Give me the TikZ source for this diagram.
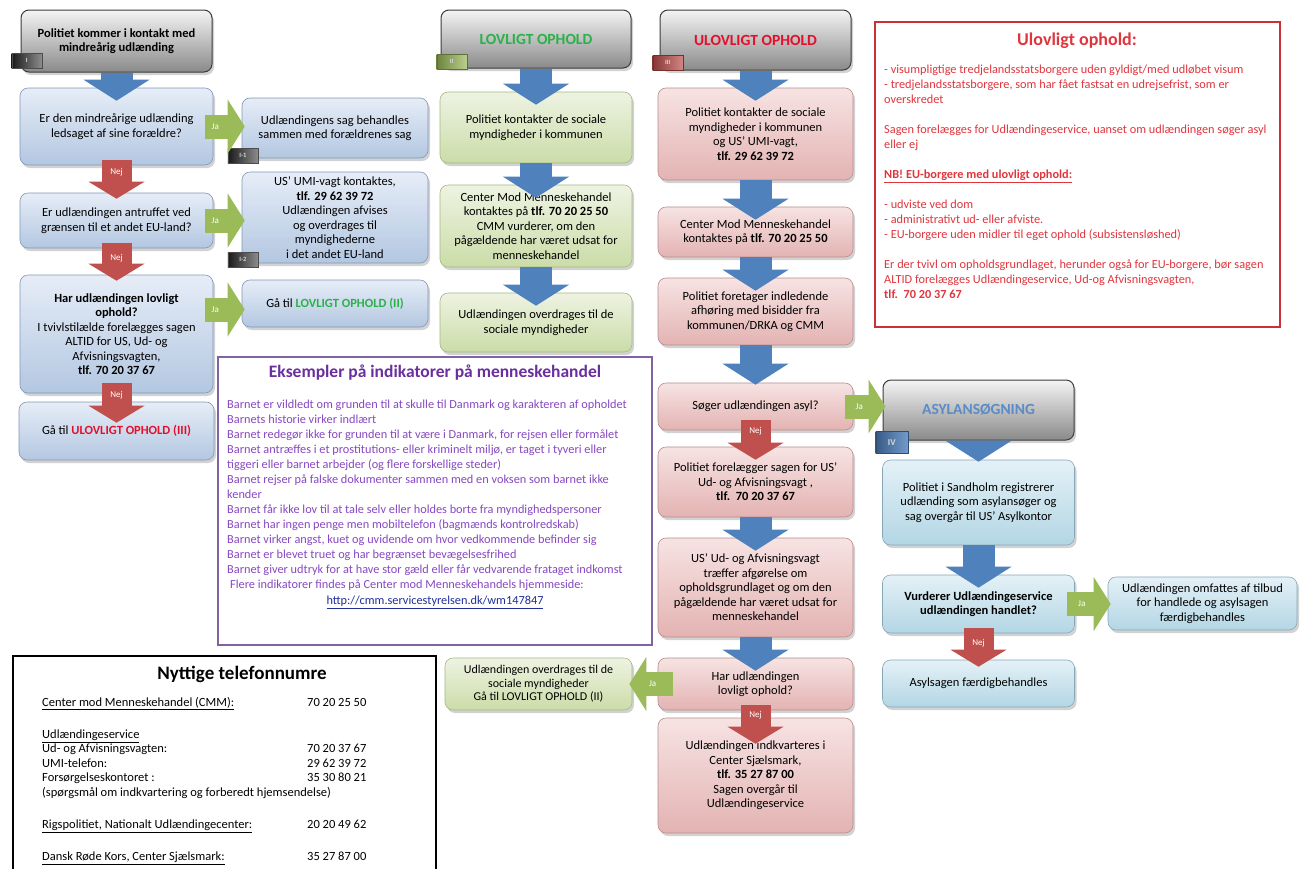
\documentclass[tikz,border=0pt]{standalone}
\usepackage{fontspec}
\setmainfont{Carlito}
\usepackage{xcolor}
\usetikzlibrary{positioning}
\usetikzlibrary{calc}
\usetikzlibrary{shadows}
\usetikzlibrary{arrows.meta}

\definecolor{arrowblue}{HTML}{4F81BD}
\definecolor{arrowred}{HTML}{C0504D}
\definecolor{arrowgreen}{HTML}{9BBB59}
\definecolor{txtgreen}{HTML}{2CB04A}
\definecolor{txtred}{HTML}{E3102C}
\definecolor{txtasyl}{HTML}{5B8CC6}
\definecolor{infored}{HTML}{E0353D}
\definecolor{purpletxt}{HTML}{8748C2}
\definecolor{purpletitle}{HTML}{6A2E9E}
\definecolor{purpleedge}{HTML}{8064A2}
\definecolor{linkblue}{HTML}{1F2F9A}
\definecolor{bluetop}{HTML}{E6EDF7}
\definecolor{bluebot}{HTML}{B3C7E1}
\definecolor{blueedge}{HTML}{8197B8}
\definecolor{greentop}{HTML}{EEF3E2}
\definecolor{greenbot}{HTML}{CBDCA8}
\definecolor{greenedge}{HTML}{A3B982}
\definecolor{redtop}{HTML}{F7E3E3}
\definecolor{redbot}{HTML}{E3B3B2}
\definecolor{rededge}{HTML}{B88C8B}
\definecolor{asyltop}{HTML}{E4F1F7}
\definecolor{asylbot}{HTML}{B3D6E4}
\definecolor{asyledge}{HTML}{86A7B8}
\definecolor{headtop}{HTML}{F4F4F4}
\definecolor{headbot}{HTML}{8A8A8A}
\definecolor{headedge}{HTML}{3C3C3C}

\newcommand{\boxfont}{\fontsize{12.5}{14.5}\selectfont}
\newcommand{\headfont}{\fontsize{15.5}{18}\selectfont\bfseries}
\newcommand{\infofont}{\fontsize{12.3}{15}\selectfont}
\newcommand{\indfont}{\fontsize{12.3}{15}\selectfont}
\newcommand{\phonefont}{\fontsize{12.5}{14.5}\selectfont}

\tikzset{
  flowbox/.style={rounded corners=8pt, align=center, inner sep=2pt, font=\boxfont, line width=0.6pt,
    drop shadow={opacity=0.35, shadow xshift=2pt, shadow yshift=-3pt}},
  bluebox/.style={flowbox, draw=blueedge, top color=bluetop, bottom color=bluebot},
  greenbox/.style={flowbox, draw=greenedge, top color=greentop, bottom color=greenbot},
  redbox/.style={flowbox, draw=rededge, top color=redtop, bottom color=redbot},
  asylbox/.style={flowbox, draw=asyledge, top color=asyltop, bottom color=asylbot},
  headbox/.style={flowbox, draw=headedge, line width=1pt, top color=headtop, bottom color=headbot},
  tabdark/.style={draw=black!70, minimum width=30pt, minimum height=15pt, inner sep=0pt, anchor=south west,
    font=\fontsize{6.5}{7}\selectfont\bfseries, text=white!85!black, left color=black!90, right color=black!45},
  tabgreen/.style={tabdark, draw=arrowgreen!60!black, left color=arrowgreen!70!black, right color=arrowgreen!70},
  tabred/.style={tabdark, draw=arrowred!60!black, left color=arrowred!70!black, right color=arrowred!70},
  tabblue/.style={tabdark, draw=arrowblue!60!black, left color=arrowblue!70!black, right color=arrowblue!80},
  downblue/.style={draw=arrowblue, line width=32pt, shorten >=-13pt,
    -{Triangle[width=66pt, length=21pt, line width=0pt]}},
  nej/.style={draw=arrowred, line width=30pt, shorten <=-5pt, shorten >=-6pt,
    -{Triangle[width=56pt, length=17pt, line width=0pt]}},
  ja/.style={draw=arrowgreen, line width=24pt, shorten <=-8pt, shorten >=-3pt,
    -{Triangle[width=54pt, length=17pt, line width=0pt]}},
  nejtext/.style={inner sep=1pt, text=white, font=\fontsize{9}{9}\selectfont},
  jatext/.style={inner sep=1pt, text=white, font=\fontsize{9}{9}\selectfont},
  infoframe/.style={draw, fill=white, inner sep=0pt}
}

\begin{document}
\begin{tikzpicture}[x=1pt, y=-1pt]
\useasboundingbox (0,0) rectangle (1308,868);
\fill[white] (0,0) rectangle (1308,868);

% I
\node[headbox, minimum width=191pt, minimum height=62pt] (hdrI) at (116.5,41) {\textbf{Politiet kommer i kontakt med}\\\textbf{mindreårig udlænding}};
\node[bluebox, minimum width=193pt, minimum height=77pt] (qParents) at (116.5,126.5) {Er den mindreårige udlænding\\ledsaget af sine forældre?};
\node[bluebox, minimum width=193pt, minimum height=55pt] (qBorder) at (116.5,220.5) {Er udlændingen antruffet ved\\grænsen til et andet EU-land?};
\node[bluebox, minimum width=193pt, minimum height=118pt] (qLegal) at (116.5,334) {\textbf{Har udlændingen lovligt}\\\textbf{ophold?}\\I tvivlstilælde forelægges sagen\\ALTID for US, Ud- og\\Afvisningsvagten,\\\textbf{tlf. 70 20 37 67}};
\node[bluebox, minimum width=195pt, minimum height=58pt] (goIII) at (116.5,431) {Gå til \textcolor{txtred}{\textbf{ULOVLIGT OPHOLD (III)}}};
\node[bluebox, minimum width=186pt, minimum height=60pt] (sameCase) at (335,128) {Udlændingens sag behandles\\sammen med forældrenes sag};
\node[bluebox, minimum width=186pt, minimum height=91pt] (umiCall) at (335,217.5) {US' UMI-vagt kontaktes,\\\textbf{tlf. 29 62 39 72}\\Udlændingen afvises\\og overdrages til\\myndighederne\\i det andet EU-land};
\node[bluebox, minimum width=186pt, minimum height=47pt] (goII) at (335,303.5) {Gå til \textcolor{txtgreen}{\textbf{LOVLIGT OPHOLD (II)}}};

% II
\node[headbox, minimum width=190pt, minimum height=58pt, font=\headfont] (hdrII) at (536,39) {\textcolor{txtgreen}{LOVLIGT OPHOLD}};
\node[greenbox, minimum width=192pt, minimum height=71pt] (socII) at (536,127.5) {Politiet kontakter de sociale\\myndigheder i kommunen};
\node[greenbox, minimum width=192pt, minimum height=82pt] (cmmII) at (536,226) {Center Mod Menneskehandel\\kontaktes på \textbf{tlf. 70 20 25 50}\\CMM vurderer, om den\\pågældende har været udsat for\\menneskehandel};
\node[greenbox, minimum width=192pt, minimum height=59pt] (handII) at (536,322.5) {Udlændingen overdrages til de\\sociale myndigheder};
\node[greenbox, minimum width=187pt, minimum height=52pt, font=\fontsize{12}{13.5}\selectfont] (handBack) at (538.5,684) {Udlændingen overdrages til de\\sociale myndigheder\\Gå til LOVLIGT OPHOLD (II)};

% III
\node[headbox, minimum width=191pt, minimum height=60pt, font=\headfont] (hdrIII) at (755.5,40) {\textcolor{txtred}{ULOVLIGT OPHOLD}};
\node[redbox, minimum width=195pt, minimum height=92pt] (socIII) at (755.5,134) {Politiet kontakter de sociale\\myndigheder i kommunen\\og US' UMI-vagt,\\\textbf{tlf. 29 62 39 72}};
\node[redbox, minimum width=195pt, minimum height=50pt] (cmmIII) at (755.5,232) {Center Mod Menneskehandel\\kontaktes på \textbf{tlf. 70 20 25 50}};
\node[redbox, minimum width=195pt, minimum height=67pt] (hearIII) at (755.5,311.5) {Politiet foretager indledende\\afhøring med bisidder fra\\kommunen/DRKA og CMM};
\node[redbox, minimum width=195pt, minimum height=47pt] (asylQ) at (755.5,406.5) {Søger udlændingen asyl?};
\node[redbox, minimum width=195pt, minimum height=70pt] (presentIII) at (755.5,482) {Politiet forelægger sagen for US'\\Ud- og Afvisningsvagt ,\\\textbf{tlf.\ \ 70 20 37 67}};
\node[redbox, minimum width=195pt, minimum height=99pt] (decideIII) at (755.5,587.5) {US' Ud- og Afvisningsvagt\\træffer afgørelse om\\opholdsgrundlaget og om den\\pågældende har været udsat for\\menneskehandel};
\node[redbox, minimum width=195pt, minimum height=52pt] (legalQ) at (755.5,684) {Har udlændingen\\lovligt ophold?};
\node[redbox, minimum width=195pt, minimum height=115pt] (housedIII) at (755.5,775.5) {Udlændingen indkvarteres i\\Center Sjælsmark,\\\textbf{tlf. 35 27 87 00}\\Sagen overgår til\\Udlændingeservice};

% IV
\node[headbox, minimum width=191pt, minimum height=60pt, font=\headfont] (hdrIV) at (978.5,410) {\textcolor{txtasyl}{ASYLANSØGNING}};
\node[asylbox, minimum width=192pt, minimum height=85pt] (regIV) at (978.5,502.5) {Politiet i Sandholm registrerer\\udlænding som asylansøger og\\sag overgår til US' Asylkontor};
\node[asylbox, minimum width=192pt, minimum height=58pt] (tradeQ) at (978.5,604) {\textbf{Vurderer Udlændingeservice}\\\textbf{udlændingen handlet?}};
\node[asylbox, minimum width=189pt, minimum height=53pt] (offerIV) at (1202.5,603.5) {Udlændingen omfattes af tilbud\\for handlede og asylsagen\\færdigbehandles};
\node[asylbox, minimum width=192pt, minimum height=47pt] (doneIV) at (978.5,683.5) {Asylsagen færdigbehandles};

% tabs
\node[tabdark] (tabI) at ($(hdrI.south west)+(-9,-4)$) {I};
\node[tabdark] (tabIa) at ($(sameCase.south west)+(-14,5)$) {I-1};
\node[tabdark] (tabIb) at ($(umiCall.south west)+(-14,4)$) {I-2};
\node[tabgreen] (tabII) at ($(hdrII.south west)+(-4,1)$) {II};
\node[tabred] (tabIII) at ($(hdrIII.south west)+(-7,0)$) {III};
\node[tabblue, minimum width=32pt, minimum height=22pt, font=\fontsize{9}{9}\selectfont\bfseries] (tabIV) at ($(hdrIV.south west)+(-7,13)$) {IV};

% arrows
\draw[downblue] (hdrI.south) -- (qParents.north);
\draw[downblue] (hdrII.south) -- (socII.north);
\draw[downblue] (socII.south) -- (cmmII.north);
\draw[downblue] (cmmII.south) -- (handII.north);
\draw[downblue] (hdrIII.south) -- (socIII.north);
\draw[downblue] (socIII.south) -- (cmmIII.north);
\draw[downblue] (cmmIII.south) -- (hearIII.north);
\draw[downblue, shorten >=-2pt] (hearIII.south) -- (asylQ.north);
\draw[downblue] (presentIII.south) -- (decideIII.north);
\draw[downblue] (decideIII.south) -- (legalQ.north);
\draw[downblue, shorten >=-2pt] (hdrIV.south) -- (regIV.north);
\draw[downblue] (regIV.south) -- (tradeQ.north);

\draw[nej] (qParents.south) -- (qBorder.north) node[nejtext] at ([yshift=-7pt]qParents.south) {Nej};
\draw[nej] (qBorder.south) -- (qLegal.north) node[nejtext] at ([yshift=-10pt]qBorder.south) {Nej};
\draw[nej, shorten <=-10pt, shorten >=-21pt] (qLegal.south) -- (goIII.north) node[nejtext] at ([yshift=-2pt]qLegal.south) {Nej};
\draw[nej, shorten <=-10pt, shorten >=-13pt] (asylQ.south) -- (presentIII.north) node[nejtext] at ([yshift=-1pt]asylQ.south) {Nej};
\draw[nej, shorten >=-26pt] (legalQ.south) -- (housedIII.north) node[nejtext] at ([yshift=-5pt]legalQ.south) {Nej};
\draw[nej, shorten >=-7pt] (tradeQ.south) -- (doneIV.north) node[nejtext] at ([yshift=-10pt]tradeQ.south) {Nej};

\draw[ja] (qParents.east) -- (qParents.east -| sameCase.west) node[jatext] at ([xshift=2pt]qParents.east) {Ja};
\draw[ja] (qBorder.east) -- (qBorder.east -| umiCall.west) node[jatext] at ([xshift=2pt]qBorder.east) {Ja};
\draw[ja] ([yshift=-6pt]goII.west -| qLegal.east) -- ([yshift=-6pt]goII.west) node[jatext] at ([yshift=-6pt, xshift=2pt]goII.west -| qLegal.east) {Ja};
\draw[ja] (asylQ.east) -- (asylQ.east -| hdrIV.west) node[jatext] at ([xshift=6pt]asylQ.east) {Ja};
\draw[ja] (tradeQ.east) -- (tradeQ.east -| offerIV.west) node[jatext] at ([xshift=7pt]tradeQ.east) {Ja};
\draw[ja, shorten <=-15pt] (legalQ.west) -- (legalQ.west -| handBack.east) node[jatext] at ([xshift=-5pt]legalQ.west) {Ja};

% Ulovligt ophold
\node[infoframe, draw=infored!90!black, line width=1.5pt, minimum width=405pt, minimum height=305pt] (infoBox) at (1077.5,174.5) {};
\node[font=\fontsize{18}{21}\selectfont\bfseries, text=infored] (infoTitle) at (1077,41) {Ulovligt ophold:};
\node[anchor=north west, align=left, inner sep=0pt, font=\infofont, text=infored] (infoText) at (884,65) {%
- visumpligtige tredjelandsstatsborgere uden gyldigt/med udløbet visum\\
- tredjelandsstatsborgere, som har fået fastsat en udrejsefrist, som er\\
overskredet\\[15pt]
Sagen forelægges for Udlændingeservice, uanset om udlændingen søger asyl\\
eller ej\\[15pt]
\underline{\textbf{NB! EU-borgere med ulovligt ophold:}}\\[15pt]
- udviste ved dom\\
- administrativt ud- eller afviste.\\
- EU-borgere uden midler til eget ophold (subsistensløshed)\\[15pt]
Er der tvivl om opholdsgrundlaget, herunder også for EU-borgere, bør sagen\\
ALTID forelægges Udlændingeservice, Ud-og Afvisningsvagten,\\
\textbf{tlf.\ \ 70 20 37 67}};

% indikatorer
\node[infoframe, draw=purpleedge, line width=1.8pt, minimum width=434pt, minimum height=288pt] (indBox) at (435,501) {};
\node[font=\fontsize{17.5}{21}\selectfont\bfseries, text=purpletitle] (indTitle) at (435,373) {Eksempler på indikatorer på menneskehandel};
\node[anchor=north west, align=left, inner sep=0pt, font=\indfont, text=purpletxt] (indText) at (227,400) {%
Barnet er vildledt om grunden til at skulle til Danmark og karakteren af opholdet\\
Barnets historie virker indlært\\
Barnet redegør ikke for grunden til at være i Danmark, for rejsen eller formålet\\
Barnet antræffes i et prostitutions- eller kriminelt miljø, er taget i tyveri eller\\
tiggeri eller barnet arbejder (og flere forskellige steder)\\
Barnet rejser på falske dokumenter sammen med en voksen som barnet ikke\\
kender\\
Barnet får ikke lov til at tale selv eller holdes borte fra myndighedspersoner\\
Barnet har ingen penge men mobiltelefon (bagmænds kontrolredskab)\\
Barnet virker angst, kuet og uvidende om hvor vedkommende befinder sig\\
Barnet er blevet truet og har begrænset bevægelsesfrihed\\
Barnet giver udtryk for at have stor gæld eller får vedvarende frataget indkomst\\
\hspace*{3pt}Flere indikatorer findes på Center mod Menneskehandels hjemmeside:};
\node[anchor=base, font=\indfont, text=linkblue] (indLink) at (435,604.5) {\underline{http://cmm.servicestyrelsen.dk/wm147847}};

% telefonnumre
\node[infoframe, draw=black, line width=2pt, anchor=north west, minimum width=423pt, minimum height=230pt] (phoneBox) at (12,655) {};
\node[anchor=base, font=\fontsize{19}{22}\selectfont\bfseries] (phoneTitle) at (242,679) {Nyttige telefonnumre};
\node[anchor=north west, inner sep=0pt, font=\phonefont] (phoneList) at (42,696) {%
\begin{tabular}{@{}p{265pt}@{}l@{}}
\underline{Center mod Menneskehandel (CMM):} & 70 20 25 50\\[17.5pt]
\underline{Udlændingeservice} & \\
Ud- og Afvisningsvagten: & 70 20 37 67\\
UMI-telefon: & 29 62 39 72\\
Forsørgelseskontoret : & 35 30 80 21\\
\multicolumn{2}{@{}l@{}}{(spørgsmål om indkvartering og forberedt hjemsendelse)}\\[17.5pt]
\underline{Rigspolitiet, Nationalt Udlændingecenter:} & 20 20 49 62\\[17.5pt]
\underline{Dansk Røde Kors, Center Sjælsmark:} & 35 27 87 00
\end{tabular}};
\end{tikzpicture}
\end{document}
